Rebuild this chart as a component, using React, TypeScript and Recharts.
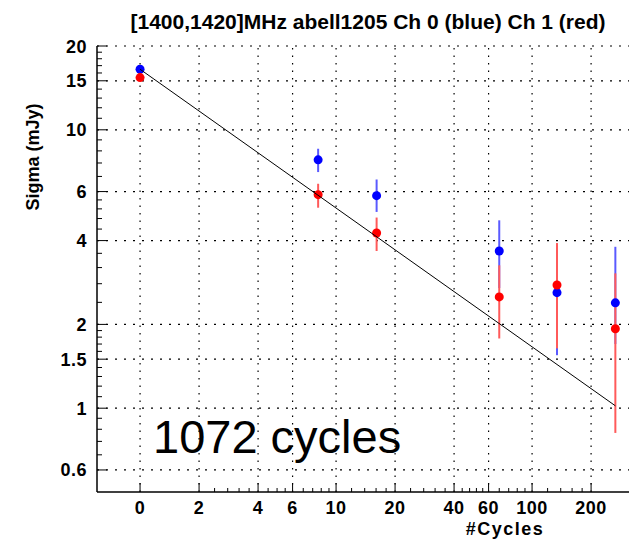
import React from 'react';
import { ScatterChart, Scatter, XAxis, YAxis, ErrorBar, ReferenceLine } from 'recharts';

// Cycle positions (log axis; first point labelled "0")
const cyclesX = [1, 8.1, 16.1, 68, 134, 266];
// Ch 0 (blue)
const ch0Sigma = [16.5, 7.8, 5.8, 3.67, 2.6, 2.39];
const ch0Low = [16.5, 7.05, 5.07, 2.7, 1.55, 1.7];
const ch0High = [16.5, 8.55, 6.63, 4.73, 3.7, 3.8];
// Ch 1 (red)
const ch1Sigma = [15.4, 5.85, 4.26, 2.51, 2.77, 1.93];
const ch1Low = [15.4, 5.25, 3.67, 1.78, 1.64, 0.815];
const ch1High = [15.4, 6.4, 4.84, 3.26, 3.92, 3.05];
// Fitted line
const fitX = [1, 266];
const fitSigma = [16.5, 1.02];

const xMajorTicks = [1, 2, 4, 6, 10, 20, 40, 60, 100, 200];
const xTickLabels = ['0', '2', '4', '6', '10', '20', '40', '60', '100', '200'];
const xMinorTicks = [2.4, 2.8, 3.2, 3.6, 4.5, 5, 5.5, 6.8, 7.6, 8.4, 9.2, 12, 14, 16, 18, 24, 28, 32, 36, 44, 48, 52, 56, 68, 76, 84, 92, 120, 140, 160, 180];
const yMajorTicks = [0.6, 1, 1.5, 2, 4, 6, 10, 15, 20];
const yTickLabels = ['0.6', '1', '1.5', '2', '4', '6', '10', '15', '20'];
const yMinorTicks = [0.68, 0.76, 0.84, 0.92, 1.1, 1.2, 1.3, 1.4, 1.6, 1.7, 1.8, 1.9, 2.4, 2.8, 3.2, 3.6, 4.4, 4.8, 5.2, 5.6, 6.8, 7.6, 8.4, 9.2, 11, 12, 13, 14, 16, 17, 18, 19];

const titleText = '[1400,1420]MHz abell1205 Ch 0 (blue) Ch 1 (red)';
const xLabel = '#Cycles';
const yLabel = 'Sigma (mJy)';
const noteText = '1072 cycles';

const xDomain = [0.603, 343];
const yDomain = [0.5, 20];

const ch0Data = cyclesX.map((x, i) => ({ x, y: ch0Sigma[i], err: [ch0Sigma[i] - ch0Low[i], ch0High[i] - ch0Sigma[i]] }));
const ch1Data = cyclesX.map((x, i) => ({ x, y: ch1Sigma[i], err: [ch1Sigma[i] - ch1Low[i], ch1High[i] - ch1Sigma[i]] }));
const fitData = fitX.map((x, i) => ({ x, y: fitSigma[i] }));

const xAllTicks = [...xMajorTicks, ...xMinorTicks].sort((a, b) => a - b);
const yAllTicks = [...yMajorTicks, ...yMinorTicks].sort((a, b) => a - b);

const FONT = '"Liberation Sans", Arial, Helvetica, sans-serif';

const BottomTick = (props: any) => {
  const { x, y, payload } = props;
  const idx = xMajorTicks.indexOf(payload.value);
  const major = idx >= 0;
  return (
    <g>
      <line x1={x} x2={x} y1={y} y2={y - (major ? 9 : 4)} stroke="#000" strokeWidth={1} />
      {major && (
        <text x={x} y={y + 22} textAnchor="middle" fontFamily={FONT} fontWeight="bold" fontSize={18} letterSpacing={0.5} fill="#000">
          {xTickLabels[idx]}
        </text>
      )}
    </g>
  );
};

const TopTick = (props: any) => {
  const { x, y, payload } = props;
  const major = xMajorTicks.indexOf(payload.value) >= 0;
  return <line x1={x} x2={x} y1={y} y2={y + (major ? 6 : 4)} stroke="#000" strokeWidth={1} />;
};

const LeftTick = (props: any) => {
  const { x, y, payload } = props;
  const idx = yMajorTicks.indexOf(payload.value);
  const major = idx >= 0;
  return (
    <g>
      <line x1={x} x2={x + (major ? 10 : 5)} y1={y} y2={y} stroke="#000" strokeWidth={1} />
      {major && (
        <text x={x - 10} y={y + 6.5} textAnchor="end" fontFamily={FONT} fontWeight="bold" fontSize={18} letterSpacing={0.5} fill="#000">
          {yTickLabels[idx]}
        </text>
      )}
    </g>
  );
};

const RightTick = (props: any) => {
  const { x, y, payload } = props;
  const major = yMajorTicks.indexOf(payload.value) >= 0;
  return <line x1={x} x2={x - (major ? 9 : 5)} y1={y} y2={y} stroke="#000" strokeWidth={1} />;
};

const dot = (color: string) => (p: any) => <circle cx={p.cx} cy={p.cy} r={4.5} fill={color} />;
const noDot = () => <g />;

export default function App() {
  return (
    <div style={{ position: 'relative', width: 629, height: 535 }}>
      <ScatterChart width={629} height={535} margin={{ top: 38, right: 0, bottom: 0, left: 0 }}>
        <XAxis
          xAxisId={0}
          dataKey="x"
          type="number"
          scale="log"
          domain={xDomain}
          allowDataOverflow
          ticks={xAllTicks}
          interval={0}
          height={51}
          tickSize={0}
          tickMargin={0}
          tickLine={false}
          axisLine={{ stroke: '#000', strokeWidth: 1.5 }}
          tick={<BottomTick />}
        />
        <XAxis
          xAxisId="top"
          orientation="top"
          dataKey="x"
          type="number"
          scale="log"
          domain={xDomain}
          allowDataOverflow
          ticks={xAllTicks}
          interval={0}
          height={0}
          tickSize={0}
          tickMargin={0}
          tickLine={false}
          axisLine={{ stroke: '#000', strokeWidth: 1.5 }}
          tick={<TopTick />}
        />
        <YAxis
          yAxisId={0}
          dataKey="y"
          type="number"
          scale="log"
          domain={yDomain}
          allowDataOverflow
          ticks={yAllTicks}
          interval={0}
          width={89}
          tickSize={0}
          tickMargin={0}
          tickLine={false}
          axisLine={{ stroke: '#000', strokeWidth: 1.5 }}
          tick={<LeftTick />}
        />
        <YAxis
          yAxisId="right"
          orientation="right"
          dataKey="y"
          type="number"
          scale="log"
          domain={yDomain}
          allowDataOverflow
          ticks={yAllTicks}
          interval={0}
          width={0}
          tickSize={0}
          tickMargin={0}
          tickLine={false}
          axisLine={false}
          tick={<RightTick />}
        />
        {xMajorTicks.map((v) => (
          <ReferenceLine key={'gx' + v} x={v} xAxisId={0} yAxisId={0} stroke="#000" strokeWidth={1.2} strokeDasharray="1.5 6" />
        ))}
        {yMajorTicks.map((v) => (
          <ReferenceLine key={'gy' + v} y={v} xAxisId={0} yAxisId={0} stroke="#000" strokeWidth={1.2} strokeDasharray="2 7" />
        ))}
        <Scatter data={ch0Data} xAxisId={0} yAxisId={0} shape={dot('#0000ff')} isAnimationActive={false}>
          <ErrorBar dataKey="err" direction="y" width={0} stroke="#5a5aff" strokeWidth={2} isAnimationActive={false} />
        </Scatter>
        <Scatter data={ch1Data} xAxisId={0} yAxisId={0} shape={dot('#ff0000')} isAnimationActive={false}>
          <ErrorBar dataKey="err" direction="y" width={0} stroke="#ff5a5a" strokeWidth={2} isAnimationActive={false} />
        </Scatter>
        <Scatter data={fitData} xAxisId={0} yAxisId={0} shape={noDot} line={{ stroke: '#000', strokeWidth: 1 }} isAnimationActive={false} />
      </ScatterChart>
      <svg width={629} height={535} style={{ position: 'absolute', left: 0, top: 0, pointerEvents: 'none' }}>
        <text x={360} y={21} textAnchor="middle" fontFamily={FONT} fontWeight="bold" fontSize={21} fill="#000">
          {titleText}
        </text>
        <text x={497} y={527} textAnchor="middle" fontFamily={FONT} fontWeight="bold" fontSize={18} letterSpacing={1.5} fill="#000">
          {xLabel}
        </text>
        <text x={31} y={149} textAnchor="middle" transform="rotate(-90, 31, 149)" fontFamily={FONT} fontWeight="bold" fontSize={18} fill="#000">
          {yLabel}
        </text>
        <text x={145} y={445} fontFamily={FONT} fontSize={47} fill="#000">
          {noteText}
        </text>
      </svg>
    </div>
  );
}
